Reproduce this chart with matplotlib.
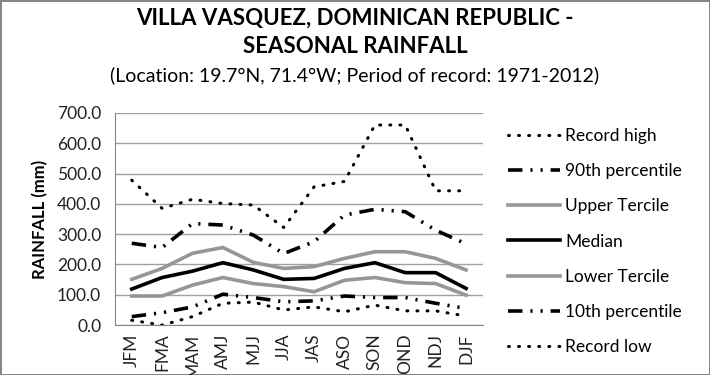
import matplotlib
matplotlib.use("Agg")
import matplotlib.pyplot as plt
from matplotlib.ticker import FormatStrFormatter

plt.rcParams["font.family"] = ["Lato", "DejaVu Sans"]

seasons = ["JFM", "FMA", "MAM", "AMJ", "MJJ", "JJA", "JAS", "ASO", "SON", "OND", "NDJ", "DJF"]

record_high = [478, 385, 415, 401, 396, 322, 456, 474, 660, 660, 443, 443]
p90 = [270, 256, 335, 330, 297, 236, 275, 363, 382, 374, 313, 268]
upper_tercile = [151, 187, 237, 256, 207, 187, 193, 220, 242, 242, 220, 182]
median = [119, 157, 178, 206, 182, 151, 154, 187, 206, 173, 173, 121]
lower_tercile = [96, 96, 132, 157, 137, 127, 110, 148, 157, 140, 137, 99]
p10 = [28, 41, 60, 102, 91, 77, 80, 96, 91, 91, 72, 55]
record_low = [16, 0, 28, 72, 76, 50, 60, 44, 66, 47, 47, 30]

fig = plt.figure(figsize=(7.1, 3.75), dpi=100)
fig.patch.set_edgecolor("#868686")
fig.patch.set_linewidth(2)
ax = fig.add_axes([0.162, 0.133, 0.518, 0.566])

dot = (0, (0.3, 3.0))
dashdotdot = (0, (4, 2.2, 0.6, 2.2, 0.6, 2.2))
gray = "#969696"

ax.plot(seasons, record_high, color="black", lw=2.2, ls=dot, dash_capstyle="round", label="Record high")
ax.plot(seasons, p90, color="black", lw=2.6, ls=dashdotdot, label="90th percentile")
ax.plot(seasons, upper_tercile, color=gray, lw=2.6, label="Upper Tercile")
ax.plot(seasons, median, color="black", lw=2.6, label="Median")
ax.plot(seasons, lower_tercile, color=gray, lw=2.6, label="Lower Tercile")
ax.plot(seasons, p10, color="black", lw=2.6, ls=dashdotdot, label="10th percentile")
ax.plot(seasons, record_low, color="black", lw=2.2, ls=dot, dash_capstyle="round", label="Record low")

ax.set_ylim(0, 700)
ax.set_yticks(range(0, 701, 100))
ax.yaxis.set_major_formatter(FormatStrFormatter("%.1f"))
ax.set_xlim(-0.55, 11.55)
ax.grid(axis="y", color="#a0a0a0", lw=1)
ax.set_axisbelow(True)
for s in ["top", "right"]:
    ax.spines[s].set_visible(False)
for s in ["left", "bottom"]:
    ax.spines[s].set_color("#868686")
ax.tick_params(axis="y", length=0, labelsize=12.5, pad=10, colors="#222222")
ax.tick_params(axis="x", length=0, labelsize=12.5, rotation=90, pad=6, colors="#222222")
ax.set_ylabel("RAINFALL (mm)", fontsize=12, fontweight="bold", labelpad=6)

fig.text(0.5, 0.952, "VILLA VASQUEZ, DOMINICAN REPUBLIC -", ha="center", va="center",
         fontsize=16, fontweight="bold")
fig.text(0.5, 0.875, "SEASONAL RAINFALL", ha="center", va="center",
         fontsize=16, fontweight="bold")
fig.text(0.5, 0.8, "(Location: 19.7°N, 71.4°W; Period of record: 1971-2012)", ha="center",
         va="center", fontsize=14)

ax.legend(loc="upper left", bbox_to_anchor=(0.715, 0.658), bbox_transform=fig.transFigure,
          frameon=False, fontsize=12.5, labelspacing=1.1, handlelength=3.0, handletextpad=0.3,
          borderaxespad=0, borderpad=0)

fig.savefig("out.png", dpi=100)
